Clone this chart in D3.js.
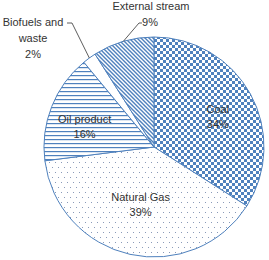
<!DOCTYPE html>
<html>
<head>
<meta charset="utf-8">
<script src="https://cdn.jsdelivr.net/npm/d3@7"></script>
<style>
  html, body { margin: 0; padding: 0; background: #fff; }
  text { font-family: "Liberation Sans", Arial, sans-serif; font-size: 11px; fill: #333; }
</style>
</head>
<body>
<div id="myPie"></div>
<script>
// 数据
var categories = ["Coal", "Natural Gas", "Oil product", "Biofuels and waste", "External stream"];
var shares = [34, 39, 16, 2, 9];
var labelLines = [["Coal"], ["Natural Gas"], ["Oil product"], ["Biofuels and", "waste"], ["External stream"]];

var svgWidth = 269, svgHeight = 260;
var cx = 154, cy = 147, radius = 110;
var blue = "#4f81bd";

var svg = d3.select("#myPie").append("svg")
    .attr("width", svgWidth)
    .attr("height", svgHeight);

/*填充图案*/
var defs = svg.append("defs");
// 煤：棋盘格
var p0 = defs.append("pattern").attr("id", "pat0").attr("patternUnits", "userSpaceOnUse")
    .attr("width", 6).attr("height", 6);
p0.append("rect").attr("width", 6).attr("height", 6).attr("fill", "#fff");
p0.append("rect").attr("width", 3).attr("height", 3).attr("fill", blue);
p0.append("rect").attr("x", 3).attr("y", 3).attr("width", 3).attr("height", 3).attr("fill", blue);
// 天然气：稀疏点
var p1 = defs.append("pattern").attr("id", "pat1").attr("patternUnits", "userSpaceOnUse")
    .attr("width", 6).attr("height", 10);
p1.append("rect").attr("width", 6).attr("height", 10).attr("fill", "#fff");
p1.append("rect").attr("x", 0).attr("y", 0).attr("width", 1).attr("height", 1).attr("fill", "#8a9ab8");
p1.append("rect").attr("x", 3).attr("y", 5).attr("width", 1).attr("height", 1).attr("fill", "#8a9ab8");
// 油品：横线
var p2 = defs.append("pattern").attr("id", "pat2").attr("patternUnits", "userSpaceOnUse")
    .attr("width", 4).attr("height", 4);
p2.append("rect").attr("width", 4).attr("height", 4).attr("fill", "#fff");
p2.append("rect").attr("y", 0).attr("width", 4).attr("height", 1.2).attr("fill", blue);
// 外部：斜线
var p4 = defs.append("pattern").attr("id", "pat4").attr("patternUnits", "userSpaceOnUse")
    .attr("width", 4).attr("height", 4);
p4.append("rect").attr("width", 4).attr("height", 4).attr("fill", "#fff");
p4.append("path").attr("d", "M-1,-1 L5,5 M-1,3 L1,5 M3,-1 L5,1")
    .attr("stroke", blue).attr("stroke-width", 1.4);

var fills = ["url(#pat0)", "url(#pat1)", "url(#pat2)", "#fff", "url(#pat4)"];

var pie = d3.pie().sort(null).value(function (d) { return d; });
var arcs = pie(shares);
var arc = d3.arc().innerRadius(0).outerRadius(radius);

var g = svg.append("g").attr("transform", "translate(" + cx + "," + cy + ")");

g.selectAll("path.slice")
    .data(arcs)
    .enter().append("path")
    .attr("class", "slice")
    .attr("d", arc)
    .attr("fill", function (d, i) { return fills[i]; })
    .attr("stroke", blue)
    .attr("stroke-width", 1);

/*标签位置：以扇区中心为基准的偏移（布局）*/
var labelArc = d3.arc().innerRadius(radius * 0.6).outerRadius(radius * 0.6);
var insideOffset = [[6, 1], [1, -7], [-8, 3]];

[0, 1, 2].forEach(function (i) {
    var c = labelArc.centroid(arcs[i]);
    var x = c[0] + insideOffset[i][0], y = c[1] + insideOffset[i][1];
    var t = g.append("text").attr("text-anchor", "middle")
        .attr("transform", "translate(" + x + "," + y + ")");
    t.append("tspan").attr("x", 0).attr("y", -3).text(labelLines[i][0]);
    t.append("tspan").attr("x", 0).attr("y", 12).text(shares[i] + "%");
});

/*外部标签与引导线*/
var edgeArc = d3.arc().innerRadius(radius).outerRadius(radius);

// 生物燃料
var e3 = edgeArc.centroid(arcs[3]);
g.append("path")
    .attr("d", "M" + (67 - cx) + "," + (23 - cy) + "L" + (72 - cx) + "," + (23 - cy) + "L" + e3[0] + "," + e3[1])
    .attr("fill", "none").attr("stroke", "#333").attr("stroke-width", 0.8);
var t3 = svg.append("text").attr("text-anchor", "middle");
t3.append("tspan").attr("x", 33).attr("y", 26).text(labelLines[3][0]);
t3.append("tspan").attr("x", 33).attr("y", 42).text(labelLines[3][1]);
t3.append("tspan").attr("x", 33).attr("y", 58).text(shares[3] + "%");

// 外部流
var e4 = edgeArc.centroid(arcs[4]);
g.append("path")
    .attr("d", "M" + (142 - cx) + "," + (23 - cy) + "L" + (139 - cx) + "," + (23 - cy) + "L" + e4[0] + "," + e4[1])
    .attr("fill", "none").attr("stroke", "#333").attr("stroke-width", 0.8);
var t4 = svg.append("text").attr("text-anchor", "middle");
t4.append("tspan").attr("x", 151).attr("y", 10).text(labelLines[4][0]);
t4.append("tspan").attr("x", 150).attr("y", 26).text(shares[4] + "%");
</script>
</body>
</html>
